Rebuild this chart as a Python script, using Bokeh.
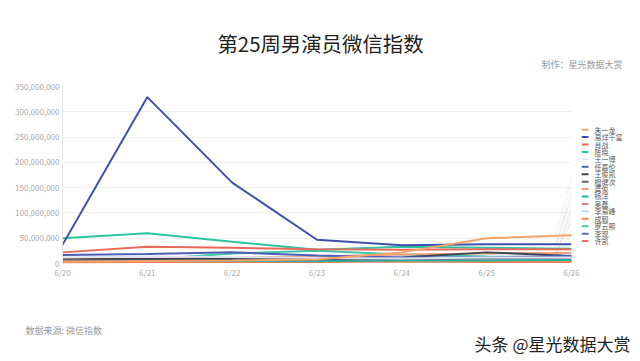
from bokeh.plotting import figure
from bokeh.models import Range1d, FixedTicker, NumeralTickFormatter
from bokeh.layouts import column, row
from bokeh.core.properties import value
from bokeh.embed import file_html
from bokeh.resources import INLINE

dates = ["6/20", "6/21", "6/22", "6/23", "6/24", "6/25", "6/26"]
names = ["朱一龙", "易烊千玺", "肖战", "陈晓", "王一博", "任嘉伦", "王俊凯", "檀健次",
         "龚俊", "杨洋", "吴磊", "李易峰", "成毅", "罗云熙", "李现", "许凯"]
colors = ["#f4a46a", "#3f4fae", "#e8685c", "#2ec4a0", "#dfe3f3", "#4a5fb5", "#3d4652", "#5f6470",
          "#f39b7a", "#1fb5a5", "#d98585", "#bcd7ee", "#f08a4e", "#3fc6a8", "#5c6ba8", "#e5785f"]
# values in millions
zhu_yilong = [4, 5, 6, 8, 22, 50, 56]
yi_yangqianxi = [37, 329, 160, 47, 36, 38, 38]
xiao_zhan = [22, 33, 31, 28, 27, 28, 28]
chen_xiao = [50, 60, 43, 27, 33, 31, 29]
wang_yibo = [12, 14, 13, 11, 10, 12, 12]
ren_jialun = [17, 19, 22, 16, 12, 12, 15]
wang_junkai = [10, 9, 10, 9, 12, 22, 15]
tan_jianci = [6, 7, 7, 8, 9, 11, 12]
gong_jun = [8, 10, 12, 14, 18, 20, 21]
yang_yang = [5, 6, 5, 5, 6, 6, 7]
wu_lei = [10, 8, 9, 12, 10, 9, 10]
li_yifeng = [7, 8, 8, 7, 7, 8, 8]
cheng_yi = [3, 4, 4, 5, 5, 5, 5]
luo_yunxi = [9, 8, 20, 25, 18, 14, 12]
li_xian = [6, 7, 6, 6, 8, 6, 6]
xu_kai = [2, 3, 3, 3, 4, 3, 3]
series = [zhu_yilong, yi_yangqianxi, xiao_zhan, chen_xiao, wang_yibo, ren_jialun, wang_junkai,
          tan_jianci, gong_jun, yang_yang, wu_lei, li_yifeng, cheng_yi, luo_yunxi, li_xian, xu_kai]
y_ticks = [0, 50e6, 100e6, 150e6, 200e6, 250e6, 300e6, 350e6]
y_max = 350e6

FONT = "Noto Sans CJK SC"
W = 640
HEAD_H, FOOT_H = 78, 78
FRAME_W, FRAME_H = 509, 177
BORDER_L, BORDER_R, BORDER_T, BORDER_B = 62, 10, 8, 20
MAIN_H = BORDER_T + FRAME_H + BORDER_B
LEG_W = W - (BORDER_L + FRAME_W + BORDER_R)
LEG_TOP, LEG_STEP = 50, 8.6  # first legend row below top of main area, row pitch


def blank(w, h):
    f = figure(width=w, height=h, x_range=Range1d(0, w), y_range=Range1d(0, h),
               output_backend="svg", toolbar_location=None, x_axis_location=None,
               y_axis_location=None, min_border=0, outline_line_color=None,
               background_fill_color="white", border_fill_color="white")
    f.grid.visible = False
    return f


# ---- header ----
head = blank(W, HEAD_H)
head.text(x=[320], y=[HEAD_H - 42], text=["第25周男演员微信指数"], text_font=value(FONT),
          text_font_size=value("20.4px"), text_color="#222222", text_align="center",
          text_baseline="middle")
head.text(x=[622], y=[HEAD_H - 64], text=["制作：星光数据大赏"], text_font=value(FONT),
          text_font_size=value("9px"), text_color="#999999", text_align="right",
          text_baseline="middle")

# ---- main chart ----
p = figure(frame_width=FRAME_W, frame_height=FRAME_H, output_backend="svg", toolbar_location=None,
           x_range=Range1d(0, len(dates) - 1), y_range=Range1d(0, y_max),
           min_border_left=BORDER_L, min_border_right=BORDER_R, min_border_top=BORDER_T,
           min_border_bottom=BORDER_B, outline_line_color=None,
           background_fill_color="white", border_fill_color="white")

xs = list(range(len(dates)))
last = len(dates) - 1
# leader lines from series end towards legend rows (faint dotted)
for i in range(len(names)):
    end_v = series[i][last] * 1e6
    leg_screen = LEG_TOP + LEG_STEP * i  # from top of main area
    leg_v = (BORDER_T + FRAME_H - leg_screen) / FRAME_H * y_max
    mid_v = end_v + (leg_v - end_v) * 0.55
    p.line([last - 0.19, last], [end_v, mid_v], line_color="#cfcfcf", line_width=0.6,
           line_dash="1 1")

for i in list(range(len(names)))[::-1]:
    ys = [v * 1e6 for v in series[i]]
    p.line(xs, ys, line_color=colors[i], line_width=2)

p.xaxis.ticker = FixedTicker(ticks=xs)
p.xaxis.major_label_overrides = {i: d for i, d in enumerate(dates)}
p.yaxis.ticker = FixedTicker(ticks=y_ticks)
p.yaxis.formatter = NumeralTickFormatter(format="0,0")
for ax in (p.xaxis, p.yaxis):
    ax.major_label_text_font = FONT
    ax.major_label_text_font_size = "8px"
    ax.major_label_text_color = "#aaaaaa"
    ax.major_tick_line_color = None
    ax.minor_tick_line_color = None
    ax.major_tick_out = 0
    ax.major_tick_in = 0
    ax.major_label_standoff = 3
p.xaxis.axis_line_color = None
p.yaxis.axis_line_color = "#e6e6e6"
p.xgrid.grid_line_color = None
p.ygrid.grid_line_color = "#f0f0f0"

# ---- legend panel ----
leg = blank(LEG_W, MAIN_H)
for i in range(len(names)):
    yy = MAIN_H - (LEG_TOP + LEG_STEP * i)
    leg.line([0, 7], [yy, yy], line_color=colors[i], line_width=2)
    leg.text(x=[13], y=[yy], text=[names[i]], text_font=value(FONT),
             text_font_size=value("7px"), text_color="#555555", text_align="left",
             text_baseline="middle")

# ---- footer ----
foot = blank(W, FOOT_H)
foot.text(x=[25], y=[FOOT_H - 47], text=["数据来源: 微信指数"], text_font=value(FONT),
          text_font_size=value("9px"), text_color="#999999", text_align="left",
          text_baseline="middle")
foot.text(x=[630], y=[FOOT_H - 60], text=["头条 @星光数据大赏"], text_font=value(FONT),
          text_font_size=value("17px"), text_color="#222222", text_align="right",
          text_baseline="middle")

layout = column(head, row(p, leg), foot)
open("out.html", "w").write(file_html(layout, INLINE))
